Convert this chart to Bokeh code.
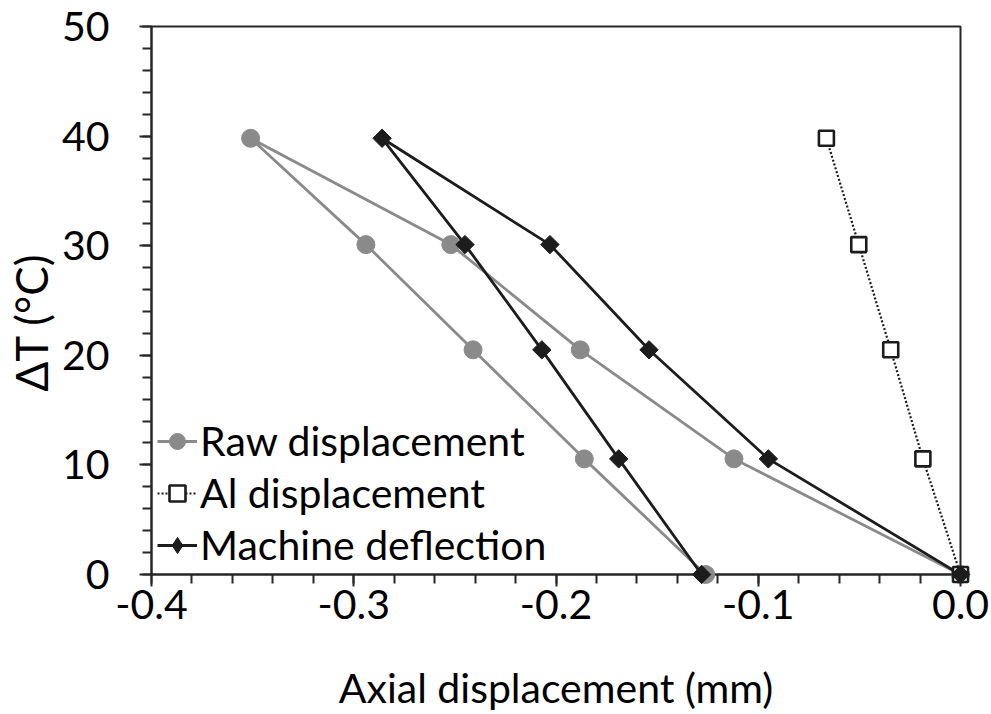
import math
from bokeh.plotting import figure
from bokeh.models import Range1d, FixedTicker, NumeralTickFormatter, Legend, LegendItem, Title
from bokeh.embed import file_html
from bokeh.resources import INLINE

# Data
raw_x = [0.0, -0.112, -0.188, -0.252, -0.351, -0.294, -0.241, -0.186, -0.126]
raw_y = [0.0, 10.55, 20.5, 30.1, 39.8, 30.1, 20.5, 10.55, 0.0]
al_x = [0.0, -0.0186, -0.0345, -0.0503, -0.0663]
al_y = [0.0, 10.55, 20.5, 30.1, 39.8]
mach_x = [0.0, -0.095, -0.154, -0.203, -0.286, -0.245, -0.207, -0.169, -0.128]
mach_y = [0.0, 10.55, 20.5, 30.1, 39.8, 30.1, 20.5, 10.55, 0.0]

x_major = [-0.4, -0.3, -0.2, -0.1, 0.0]
x_minor = [round(-0.4 + 0.02 * i, 2) for i in range(21)]
y_major = [0, 10, 20, 30, 40, 50]
y_minor = list(range(0, 51, 2))

labels = ["Raw displacement", "Al displacement", "Machine deflection"]
x_title = "Axial displacement (mm)"
y_title = "ΔT (°C)"

FONT = "Lato"
FS = "41px"
AX = "#262626"
GRAY = "#8a8a8a"
BLACK = "#1c1c1c"

TOP, BOTTOM, LEFT, RIGHT = 26, 140, 150, 31
p = figure(width=991, height=714, output_backend="svg", toolbar_location=None,
           x_range=Range1d(-0.4, 0.0), y_range=Range1d(0, 50),
           min_border_left=LEFT, min_border_right=RIGHT,
           min_border_top=TOP, min_border_bottom=BOTTOM)
p.background_fill_color = "white"
p.border_fill_color = "white"
p.grid.visible = False
p.outline_line_color = AX
p.outline_line_width = 2

p.xaxis.ticker = FixedTicker(ticks=x_major, minor_ticks=x_minor)
p.yaxis.ticker = FixedTicker(ticks=y_major, minor_ticks=y_minor)
p.xaxis.formatter = NumeralTickFormatter(format="0.0")

for ax in (p.xaxis, p.yaxis):
    ax.axis_line_color = AX
    ax.axis_line_width = 2
    ax.major_tick_line_color = AX
    ax.minor_tick_line_color = AX
    ax.major_tick_line_width = 2
    ax.minor_tick_line_width = 2
    ax.major_tick_in = 0
    ax.minor_tick_in = 0
    ax.major_tick_out = 12
    ax.minor_tick_out = 9
    ax.major_label_text_font = FONT
    ax.major_label_text_font_size = FS
    ax.major_label_text_color = "black"

p.xaxis.major_label_standoff = 3
p.yaxis.major_label_standoff = 30

p.xaxis.axis_label = x_title
p.xaxis.axis_label_standoff = 41
p.xaxis.axis_label_text_font = FONT
p.xaxis.axis_label_text_font_size = FS
p.xaxis.axis_label_text_font_style = "normal"
p.xaxis.axis_label_text_color = "black"

# y title as a side-panel title, positioned along the axis from the frame bottom
p.add_layout(Title(text=y_title, align="left", offset=183, standoff=4,
                   text_font=FONT, text_font_size="44px", text_font_style="normal",
                   text_color="black"), "left")

# Raw displacement
r_line = p.line(raw_x, raw_y, line_color=GRAY, line_width=2.8)
r_pts = p.scatter(raw_x, raw_y, marker="circle", size=18, fill_color=GRAY, line_color=GRAY)
# Al displacement
a_line = p.line(al_x, al_y, line_color=BLACK, line_width=2.2, line_dash="2 2")
a_pts = p.scatter(al_x, al_y, marker="square", size=15, fill_color="white",
                  line_color=BLACK, line_width=2.6)
# Machine deflection
m_line = p.line(mach_x, mach_y, line_color=BLACK, line_width=2.8)
m_pts = p.scatter(mach_x, mach_y, marker="square", size=13, angle=math.pi / 4,
                  fill_color=BLACK, line_color=BLACK)
# legend-only diamond marker, kept outside the visible ranges
m_leg = p.scatter([1.0], [100.0], marker="diamond", size=19, fill_color=BLACK, line_color=BLACK)

for r in (r_pts, a_pts, m_pts):
    r.level = "overlay"

legend = Legend(items=[
    LegendItem(label=labels[0], renderers=[r_line, r_pts]),
    LegendItem(label=labels[1], renderers=[a_line, a_pts]),
    LegendItem(label=labels[2], renderers=[m_line, m_leg]),
], location=(6, 5))
legend.border_line_color = None
legend.background_fill_alpha = 0
legend.padding = 0
legend.margin = 0
legend.spacing = 3
legend.glyph_width = 40
legend.glyph_height = 40
legend.label_height = 40
legend.label_standoff = 3
legend.label_text_font = FONT
legend.label_text_font_size = FS
legend.label_text_color = "black"
p.add_layout(legend)

open("out.html", "w").write(file_html(p, INLINE))
